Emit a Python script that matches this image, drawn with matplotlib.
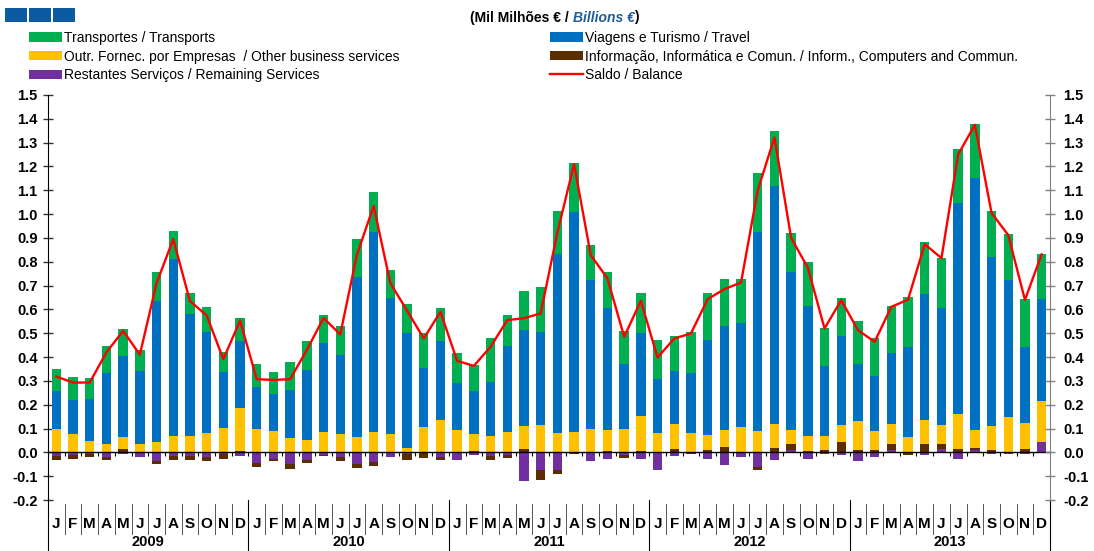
import numpy as np
import matplotlib.pyplot as plt
from matplotlib.patches import Rectangle, Patch
from matplotlib.lines import Line2D

plt.rcParams['font.family'] = ['Liberation Sans', 'DejaVu Sans']

anos = ['2009', '2010', '2011', '2012', '2013']
meses = ['J', 'F', 'M', 'A', 'M', 'J', 'J', 'A', 'S', 'O', 'N', 'D']

# Mil Milhoes de euros, Jan 2009 .. Dez 2013
restantes = [-0.015, -0.010, -0.005, -0.018, -0.008, -0.021, -0.035, -0.015, -0.015, -0.021, -0.005, -0.014,
             -0.045, -0.030, -0.050, -0.031, -0.013, -0.020, -0.050, -0.041, -0.020, -0.008, -0.004, -0.020,
             -0.034, -0.011, -0.017, -0.010, -0.120, -0.076, -0.073, 0.000, -0.038, -0.028, -0.010, -0.029,
             -0.076, -0.014, 0.000, -0.029, -0.052, -0.020, -0.062, -0.031, 0.008, -0.027, -0.008, -0.013,
             -0.038, -0.020, 0.011, 0.000, -0.010, 0.015, -0.027, 0.011, -0.005, -0.005, -0.005, 0.045]
informacao = [-0.017, -0.020, -0.013, -0.014, 0.014, 0.000, -0.012, -0.017, -0.017, -0.015, -0.024, 0.007,
              -0.015, -0.005, -0.020, -0.012, -0.003, -0.018, -0.016, -0.016, 0.000, -0.023, -0.018, -0.011,
              0.000, 0.005, -0.017, -0.015, 0.014, -0.039, -0.019, -0.005, 0.000, 0.004, -0.015, 0.006,
              0.000, 0.015, -0.006, 0.011, 0.022, 0.000, -0.014, 0.018, 0.028, 0.004, 0.010, 0.042,
              0.011, 0.008, 0.023, -0.010, 0.034, 0.019, 0.015, 0.009, 0.011, -0.003, 0.015, 0.000]
outr_fornec = [0.097, 0.076, 0.049, 0.035, 0.050, 0.036, 0.042, 0.070, 0.070, 0.083, 0.101, 0.179,
               0.099, 0.091, 0.060, 0.050, 0.087, 0.077, 0.064, 0.087, 0.078, 0.020, 0.105, 0.136,
               0.095, 0.072, 0.069, 0.085, 0.095, 0.113, 0.081, 0.085, 0.099, 0.088, 0.100, 0.148,
               0.081, 0.104, 0.081, 0.063, 0.073, 0.105, 0.091, 0.101, 0.059, 0.065, 0.059, 0.073,
               0.121, 0.082, 0.084, 0.064, 0.102, 0.081, 0.145, 0.075, 0.098, 0.148, 0.107, 0.171]
viagens = [0.162, 0.144, 0.174, 0.298, 0.341, 0.306, 0.595, 0.741, 0.510, 0.424, 0.235, 0.280,
           0.176, 0.154, 0.203, 0.295, 0.370, 0.331, 0.673, 0.839, 0.568, 0.479, 0.249, 0.330,
           0.196, 0.181, 0.225, 0.362, 0.406, 0.393, 0.750, 0.925, 0.626, 0.514, 0.272, 0.345,
           0.227, 0.221, 0.250, 0.397, 0.437, 0.437, 0.835, 1.000, 0.662, 0.544, 0.292, 0.374,
           0.238, 0.232, 0.297, 0.377, 0.528, 0.490, 0.888, 1.055, 0.713, 0.575, 0.319, 0.428]
transportes = [0.090, 0.097, 0.088, 0.115, 0.112, 0.088, 0.118, 0.118, 0.088, 0.102, 0.084, 0.098,
               0.095, 0.094, 0.115, 0.124, 0.119, 0.123, 0.157, 0.165, 0.121, 0.123, 0.145, 0.142,
               0.124, 0.108, 0.184, 0.130, 0.164, 0.189, 0.183, 0.206, 0.145, 0.152, 0.136, 0.168,
               0.164, 0.150, 0.173, 0.198, 0.196, 0.186, 0.245, 0.231, 0.162, 0.184, 0.161, 0.159,
               0.180, 0.158, 0.200, 0.212, 0.218, 0.212, 0.227, 0.228, 0.191, 0.194, 0.202, 0.189]
saldo = [0.318, 0.293, 0.293, 0.420, 0.510, 0.410, 0.710, 0.895, 0.635, 0.575, 0.391, 0.553,
         0.307, 0.304, 0.307, 0.430, 0.564, 0.495, 0.830, 1.034, 0.710, 0.595, 0.478, 0.590,
         0.384, 0.363, 0.443, 0.555, 0.563, 0.583, 0.922, 1.210, 0.828, 0.730, 0.485, 0.636,
         0.398, 0.478, 0.499, 0.643, 0.685, 0.713, 1.100, 1.322, 0.900, 0.775, 0.520, 0.639,
         0.513, 0.464, 0.611, 0.641, 0.874, 0.815, 1.250, 1.375, 1.005, 0.912, 0.640, 0.831]

W, H = 1094, 551
fig = plt.figure(figsize=(W / 100, H / 100), dpi=100)
ax = fig.add_axes([48 / W, 1 - 500 / H, 1002 / W, 405 / H])

n = len(saldo)
x = np.arange(n)
series = [
    (restantes, '#7030A0', 'Restantes Serviços / Remaining Services'),
    (informacao, '#5C2D00', 'Informação, Informática e Comun. / Inform., Computers and Commun.'),
    (outr_fornec, '#FFC000', 'Outr. Fornec. por Empresas  / Other business services'),
    (viagens, '#0070C0', 'Viagens e Turismo / Travel'),
    (transportes, '#00B050', 'Transportes / Transports'),
]
base_pos = np.zeros(n)
base_neg = np.zeros(n)
handles = {}
for vals, cor, nome in series:
    v = np.array(vals)
    pos = np.where(v > 0, v, 0)
    neg = np.where(v < 0, v, 0)
    ax.bar(x, pos, 0.56, bottom=base_pos, color=cor, linewidth=0, zorder=2)
    ax.bar(x, neg, 0.56, bottom=base_neg, color=cor, linewidth=0, zorder=2)
    base_pos += pos
    base_neg += neg
    handles[nome] = Patch(facecolor=cor, label=nome)

ax.plot(x, saldo, color='#FF0000', lw=1.7, zorder=5)
linha = Line2D([], [], color='#FF0000', lw=1.7, label='Saldo / Balance')

ax.set_xlim(-0.5, n - 0.5)
ax.set_ylim(-0.2, 1.5)
yt = np.round(np.arange(-0.2, 1.51, 0.1), 1)
ax.set_yticks(yt)
ax.set_yticklabels([f'{v:.1f}' for v in yt], fontweight='bold', fontsize=10.5)
ax.tick_params(axis='y', direction='inout', length=7, width=1, colors='#333333', labelcolor='black', pad=4)

# linha do zero e marcas entre meses
ax.axhline(0, color='black', lw=1, zorder=4)
ax.vlines(np.arange(n + 1) - 0.5, -0.016, 0, color='black', lw=0.8, zorder=4)

for s in ['top', 'bottom', 'right']:
    ax.spines[s].set_visible(False)
ax.spines['left'].set_color('black')

ax2 = ax.twinx()
ax2.set_ylim(ax.get_ylim())
ax2.set_yticks(yt)
ax2.set_yticklabels([f'{v:.1f}' for v in yt], fontweight='bold', fontsize=10.5)
ax2.tick_params(axis='y', direction='inout', length=7, width=1, colors='#808080', labelcolor='black', pad=6)
for s in ['top', 'bottom', 'left']:
    ax2.spines[s].set_visible(False)
ax2.spines['right'].set_color('#808080')

# eixo das categorias (meses e anos)
ax.set_xticks(x)
ax.set_xticklabels(meses * len(anos), fontsize=11, fontweight='bold')
ax.tick_params(axis='x', length=0, pad=12)
tr = ax.get_xaxis_transform()
for k in range(n + 1):
    if k % 12 == 0:
        ax.plot([k - 0.5, k - 0.5], [0, -0.126], transform=tr, color='black', lw=0.8, clip_on=False)
    else:
        ax.plot([k - 0.5, k - 0.5], [-0.01, -0.085], transform=tr, color='#555555', lw=0.7, clip_on=False)
for i, ano in enumerate(anos):
    ax.text(i * 12 + 5.5, -0.103, ano, transform=tr, ha='center', va='center',
            fontsize=10.5, fontweight='bold')

# legendas
leg1 = fig.legend(handles=[handles['Transportes / Transports'],
                           handles['Outr. Fornec. por Empresas  / Other business services'],
                           handles['Restantes Serviços / Remaining Services']],
                  loc='upper left', bbox_to_anchor=(29 / W, 1 - 31 / H), frameon=False,
                  fontsize=10, handlelength=2.4, handleheight=0.65, labelspacing=0.33,
                  borderpad=0, borderaxespad=0, handletextpad=0.1)
leg2 = fig.legend(handles=[handles['Viagens e Turismo / Travel'],
                           handles['Informação, Informática e Comun. / Inform., Computers and Commun.'],
                           linha],
                  loc='upper left', bbox_to_anchor=(550 / W, 1 - 31 / H), frameon=False,
                  fontsize=10, handlelength=2.4, handleheight=0.65, labelspacing=0.33,
                  borderpad=0, borderaxespad=0, handletextpad=0.1)

t1 = fig.text(470 / W, 1 - 18 / H, '(Mil Milhões € / ', fontsize=10, fontweight='bold',
              ha='left', va='center')
t2 = fig.text(0, 0, 'Billions €', fontsize=10, fontweight='bold', style='italic',
              color='#1F5C99', ha='left', va='baseline')
t3 = fig.text(0, 0, ')', fontsize=10, fontweight='bold', ha='left', va='baseline')
r = fig.canvas.get_renderer()
bb = t1.get_window_extent(r)
t2.set_position((bb.x1 / fig.bbox.width, (bb.y0 + 3.5) / fig.bbox.height))
bb2 = t2.get_window_extent(r)
t3.set_position((bb2.x1 / fig.bbox.width, (bb.y0 + 3.5) / fig.bbox.height))

for x0 in [5, 29, 53]:
    fig.add_artist(Rectangle((x0 / W, 1 - 22 / H), 22 / W, 14 / H, transform=fig.transFigure,
                             facecolor='#0B5AA2', edgecolor='none'))

fig.savefig('out.png', dpi=100)
